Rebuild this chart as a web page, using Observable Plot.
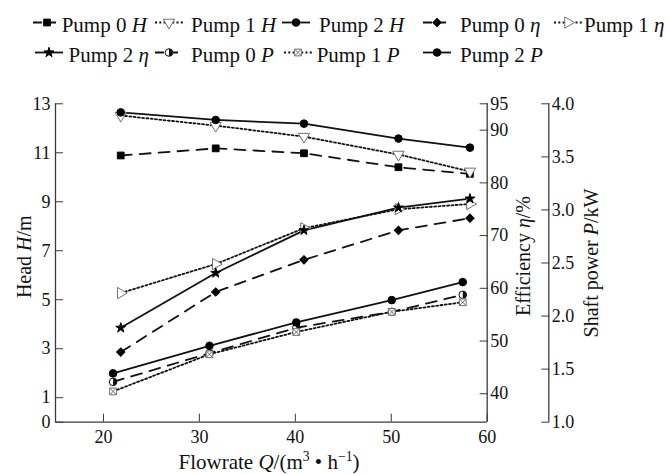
<!DOCTYPE html>
<html><head><meta charset="utf-8">
<script src="https://cdn.jsdelivr.net/npm/d3@7"></script>
<script src="https://cdn.jsdelivr.net/npm/@observablehq/plot@0.6"></script>
<style>
body{margin:0;background:#fff;}
#legend,#chart{display:block;}
svg{display:block;}
</style></head><body>
<div id="legend"></div>
<div id="chart"></div>
<script>
// ---- data ----
const flowHE = [21.8, 31.7, 40.9, 50.75, 58.2];     // flowrate for H and eta curves, m3/h
const flowP  = [21.0, 31.05, 40.1, 50.05, 57.45];   // flowrate for shaft power curves
const headPump0 = [10.89, 11.18, 10.98, 10.41, 10.14];
const headPump1 = [12.52, 12.11, 11.66, 10.93, 10.24];
const headPump2 = [12.65, 12.34, 12.19, 11.58, 11.21];
const effPump0 = [47.9, 59.3, 65.4, 71.0, 73.3];
const effPump1 = [59.1, 64.6, 71.4, 75.0, 76.0];
const effPump2 = [52.5, 62.9, 71.0, 75.3, 77.0];
const powerPump0 = [1.38, 1.65, 1.89, 2.04, 2.20];
const powerPump1 = [1.29, 1.64, 1.85, 2.04, 2.13];
const powerPump2 = [1.46, 1.72, 1.94, 2.15, 2.32];
const xTicks = [20, 30, 40, 50, 60];
const headTicks = [0, 1, 3, 5, 7, 9, 11, 13];
const effTicks = [40, 50, 60, 70, 80, 90, 95];
const powerTicks = [1.0, 1.5, 2.0, 2.5, 3.0, 3.5, 4.0];
const xDomain = [15, 60];
const headDomain = [0, 13];
const effDomain = [34.6, 95];
const powerDomain = [1, 4];

// map secondary axes into the head scale space
const lin = (d) => (v) => headDomain[0] + (v - d[0]) / (d[1] - d[0]) * (headDomain[1] - headDomain[0]);
const inv = (d) => (h) => d[0] + (h - headDomain[0]) / (headDomain[1] - headDomain[0]) * (d[1] - d[0]);
const conv = {H: (v) => v, eta: lin(effDomain), P: lin(powerDomain)};

// custom symbols
const halfDisk = {draw(ctx, size) { const r = Math.sqrt(size / Math.PI); ctx.moveTo(0, -r); ctx.arc(0, 0, r, -Math.PI / 2, Math.PI / 2); ctx.closePath(); }};
const crossSquare = {draw(ctx, size) { const s = Math.sqrt(size) / 2; ctx.moveTo(-s, -s); ctx.lineTo(s, -s); ctx.lineTo(s, s); ctx.lineTo(-s, s); ctx.closePath(); ctx.moveTo(-s, -s); ctx.lineTo(s, s); ctx.moveTo(s, -s); ctx.lineTo(-s, s); }};

const DASH = "11,8", DOT = "2,2.3";
const series = [
  {pump: "0", q: "H", sym: "H", flow: flowHE, vals: headPump0, dash: DASH, symbol: "square", fill: "black", stroke: "black", r: 3.8},
  {pump: "1", q: "H", sym: "H", flow: flowHE, vals: headPump1, dash: DOT, symbol: "triangle", rotate: 180, fill: "white", stroke: "#707070", r: 4.2},
  {pump: "2", q: "H", sym: "H", flow: flowHE, vals: headPump2, dash: null, symbol: "circle", fill: "black", stroke: "black", r: 3.8},
  {pump: "0", q: "eta", sym: "η", flow: flowHE, vals: effPump0, dash: DASH, symbol: "square", rotate: 45, fill: "black", stroke: "black", r: 3.3},
  {pump: "1", q: "eta", sym: "η", flow: flowHE, vals: effPump1, dash: DOT, symbol: "triangle", rotate: 90, fill: "white", stroke: "#707070", r: 4.2},
  {pump: "2", q: "eta", sym: "η", flow: flowHE, vals: effPump2, dash: null, symbol: "star", fill: "black", stroke: "black", r: 3.1},
  {pump: "0", q: "P", sym: "P", flow: flowP, vals: powerPump0, dash: DASH, symbol: "half", fill: "black", stroke: "black", r: 3.8},
  {pump: "1", q: "P", sym: "P", flow: flowP, vals: powerPump1, dash: DOT, symbol: crossSquare, fill: "white", stroke: "#707070", r: 3.8},
  {pump: "2", q: "P", sym: "P", flow: flowP, vals: powerPump2, dash: null, symbol: "circle", fill: "black", stroke: "black", r: 3.8}
];

const legendH = 75;
const W = 668, H = 474;
const frameTop = 103.3, frameBottom = 421.7, frameLeft = 55, frameRight = 486.7;
const powerOffset = 61.6;
const serif = "'Liberation Serif','Times New Roman',serif";

const marks = [];
for (const s of series) {
  const rows = s.flow.map((x, i) => ({Q: x, y: conv[s.q](s.vals[i])}));
  marks.push(Plot.line(rows, {x: "Q", y: "y", stroke: "#111", strokeWidth: 1.8, strokeDasharray: s.dash ?? undefined}));
}
for (const s of series) {
  const rows = s.flow.map((x, i) => ({Q: x, y: conv[s.q](s.vals[i])}));
  if (s.symbol === "half") {
    marks.push(Plot.dot(rows, {x: "Q", y: "y", r: s.r, symbol: "circle", fill: "white", stroke: "#111", strokeWidth: 1}));
    marks.push(Plot.dot(rows, {x: "Q", y: "y", r: s.r, symbol: halfDisk, fill: "#111", stroke: "none"}));
  } else {
    marks.push(Plot.dot(rows, {x: "Q", y: "y", r: s.r, symbol: s.symbol, rotate: s.rotate ?? 0, fill: s.fill, stroke: s.stroke, strokeWidth: 1}));
  }
}
// axis lines
const axisColor = "#3a3a3a";
marks.push(Plot.ruleX([xDomain[0]], {stroke: axisColor, strokeWidth: 1.3}));
marks.push(Plot.ruleX([xDomain[1]], {stroke: axisColor, strokeWidth: 1.3}));
marks.push(Plot.ruleX([xDomain[1]], {stroke: axisColor, strokeWidth: 1.3, dx: powerOffset}));
marks.push(Plot.ruleY([headDomain[0]], {stroke: axisColor, strokeWidth: 1.3}));
// axes
marks.push(Plot.axisX({ticks: xTicks, tickSize: -8, tickPadding: 16, label: null, stroke: axisColor, fill: "#111"}));
marks.push(Plot.axisY({anchor: "left", ticks: headTicks, tickSize: -8, tickPadding: 13, label: null, stroke: axisColor, fill: "#111"}));
marks.push(Plot.axisY({anchor: "right", ticks: effTicks.map(conv.eta), tickFormat: (h) => d3.format("d")(Math.round(inv(effDomain)(h))), tickSize: -8, tickPadding: 11, label: null, stroke: axisColor, fill: "#111"}));
marks.push(Plot.axisY({anchor: "right", dx: powerOffset, ticks: powerTicks.map(conv.P), tickFormat: (h) => d3.format(".1f")(inv(powerDomain)(h)), tickSize: -8, tickPadding: 11, label: null, stroke: axisColor, fill: "#111"}));

const plot = Plot.plot({
  width: W, height: H - legendH,
  marginTop: frameTop - legendH, marginBottom: H - frameBottom,
  marginLeft: frameLeft, marginRight: W - frameRight,
  x: {domain: xDomain},
  y: {domain: headDomain},
  style: {fontFamily: serif, fontSize: "18px", background: "white", color: "#111", overflow: "visible"},
  marks
});
document.getElementById("chart").appendChild(plot);

// axis titles with italic symbols and superscripts
const svg = d3.select(plot);
function title(x, y, rot, parts, size) {
  const t = svg.append("text")
    .attr("transform", `translate(${x},${y}) rotate(${rot})`)
    .attr("text-anchor", "middle").attr("font-family", serif).attr("font-size", size).attr("fill", "#111");
  for (const [txt, kind] of parts) {
    const sp = t.append("tspan").text(txt);
    if (kind === "i") sp.attr("font-style", "italic");
    if (kind === "sup") sp.attr("font-size", size * 0.65).attr("dy", -size * 0.38);
    if (kind === "down") sp.attr("dy", size * 0.38);
  }
}
const off = legendH;
title(30.5, 256.7 - off, -90, [["Head ", ""], ["H", "i"], ["/m", ""]], 20);
title(269, 469.3 - off, 0, [["Flowrate ", ""], ["Q", "i"], ["/(m", ""], ["3", "sup"], [" • h", "down"], ["−1", "sup"], [")", "down"]], 21);
title(530, 256 - off, -90, [["Efficiency ", ""], ["η", "i"], ["/%", ""]], 20);
title(598, 263 - off, -90, [["Shaft power ", ""], ["P", "i"], ["/kW", ""]], 20);

// legend
const lg = d3.select("#legend").append("svg").attr("width", W).attr("height", legendH);
const legendPos = [
  [33, 61.7, 32], [155, 191, 32], [282, 319, 32], [423, 460, 32], [554, 584, 32],
  [35, 68.5, 62], [155, 191, 62], [284, 316.7, 62], [423, 460, 62]
];
const d3sym = {square: d3.symbolSquare, triangle: d3.symbolTriangle, circle: d3.symbolCircle, diamond: d3.symbolDiamond, star: d3.symbolStar};
series.forEach((s, i) => {
  const [sx, tx, by] = legendPos[i];
  const cy = by - 9.5, w = 28;
  const g = lg.append("g");
  g.append("line").attr("x1", sx).attr("x2", sx + w).attr("y1", cy).attr("y2", cy)
    .attr("stroke", "#111").attr("stroke-width", 1.8).attr("stroke-dasharray", s.dash === DASH ? "9,5" : s.dash);
  const cx = sx + w / 2;
  const size = Math.PI * s.r * s.r;
  if (s.symbol === "half") {
    g.append("circle").attr("cx", cx).attr("cy", cy).attr("r", s.r).attr("fill", "white").attr("stroke", "#111");
    g.append("path").attr("d", d3.symbol(halfDisk, size)()).attr("transform", `translate(${cx},${cy})`).attr("fill", "#111");
  } else {
    const type = typeof s.symbol === "string" ? d3sym[s.symbol] : s.symbol;
    g.append("path").attr("d", d3.symbol(type, size)())
      .attr("transform", `translate(${cx},${cy}) rotate(${s.rotate ?? 0})`)
      .attr("fill", s.fill).attr("stroke", s.stroke).attr("stroke-width", 1);
  }
  const t = g.append("text").attr("x", tx).attr("y", by).attr("font-family", serif).attr("font-size", 21).attr("fill", "#111");
  t.append("tspan").text(`Pump ${s.pump} `);
  t.append("tspan").attr("font-style", "italic").text(s.sym);
});
</script>
</body></html>
